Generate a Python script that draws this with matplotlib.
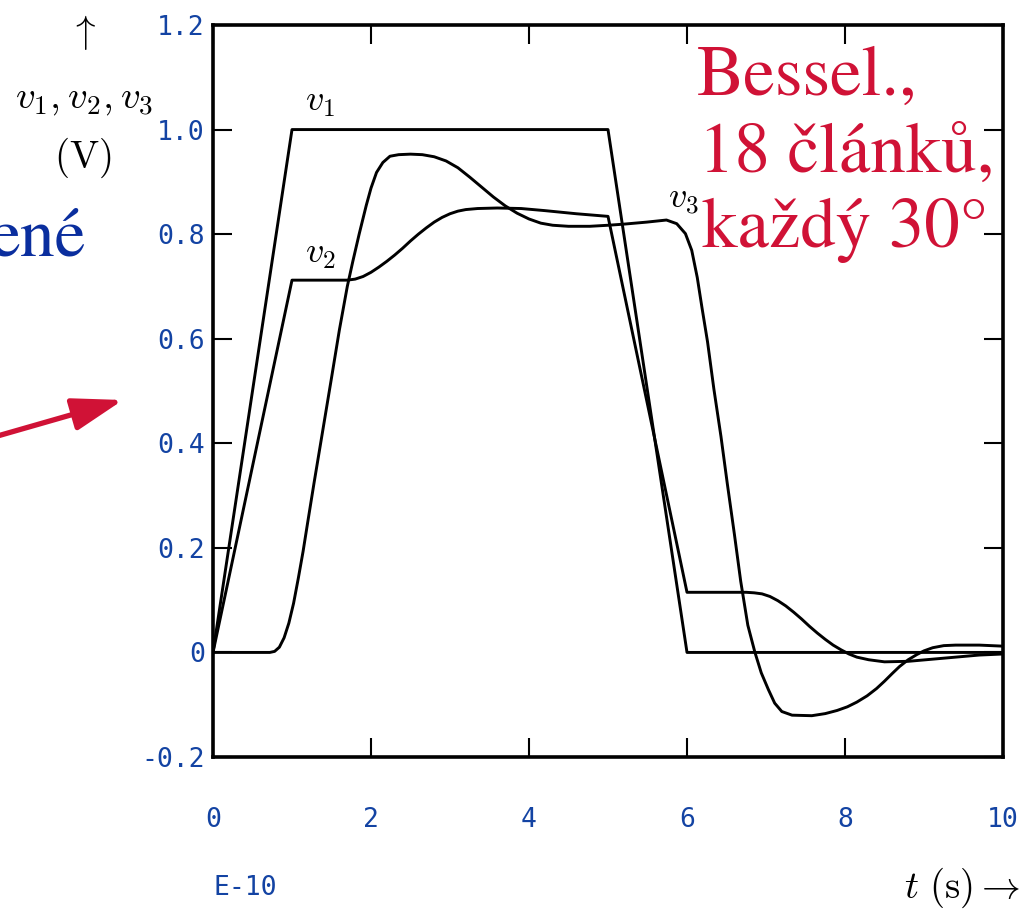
import matplotlib
matplotlib.use("Agg")
import matplotlib.pyplot as plt

plt.rcParams["mathtext.fontset"] = "cm"

# --- data -------------------------------------------------------------
t_v1 = [0, 1, 5, 6, 10]
v1 = [0, 1, 1, 0, 0]

t_v2 = [0, 1.0, 1.70, 1.8, 1.9, 2.0, 2.1, 2.2, 2.3, 2.4, 2.5, 2.6, 2.7, 2.8,
        2.9, 3.0, 3.1, 3.2, 3.35, 3.6, 3.9, 4.2, 4.6, 5.0, 6.0, 6.75, 6.85,
        6.95, 7.05, 7.15, 7.25, 7.35, 7.45, 7.55, 7.65, 7.75, 7.85, 7.95,
        8.05, 8.15, 8.3, 8.5, 8.8, 9.1, 9.4, 9.7, 10.0]
v2 = [0, 0.712, 0.712, 0.714, 0.719, 0.727, 0.737, 0.748, 0.760, 0.773,
      0.787, 0.800, 0.812, 0.823, 0.832, 0.839, 0.844, 0.847, 0.849, 0.850,
      0.849, 0.845, 0.839, 0.834, 0.115, 0.115, 0.114, 0.112, 0.107, 0.099,
      0.089, 0.077, 0.064, 0.050, 0.037, 0.025, 0.014, 0.005, -0.003,
      -0.009, -0.014, -0.018, -0.017, -0.013, -0.009, -0.005, -0.003]

t_v3 = [0, 0.72, 0.78, 0.84, 0.90, 0.96, 1.02, 1.08, 1.14, 1.20, 1.28, 1.39,
        1.5, 1.6, 1.7, 1.77, 1.85, 1.94, 2.0, 2.07, 2.15, 2.24, 2.35, 2.5,
        2.65, 2.8, 2.95, 3.1, 3.25, 3.4, 3.55, 3.7, 3.85, 4.0, 4.15, 4.3,
        4.5, 4.77, 5.0, 5.19, 5.49, 5.74, 5.87, 5.98, 6.06, 6.13, 6.19,
        6.26, 6.34, 6.43, 6.51, 6.60, 6.68, 6.77, 6.86, 6.94, 7.03, 7.11,
        7.20, 7.33, 7.58, 7.75, 7.9, 8.03, 8.15, 8.28, 8.4, 8.5, 8.6, 8.69,
        8.8, 8.91, 9.0, 9.11, 9.25, 9.4, 9.7, 10.0]
v3 = [0, 0, 0.002, 0.010, 0.028, 0.056, 0.094, 0.142, 0.193, 0.250, 0.325,
      0.425, 0.525, 0.617, 0.700, 0.748, 0.800, 0.855, 0.888, 0.918, 0.937,
      0.949, 0.952, 0.953, 0.952, 0.948, 0.940, 0.927, 0.909, 0.890, 0.871,
      0.854, 0.840, 0.829, 0.821, 0.817, 0.815, 0.815, 0.817, 0.819, 0.823,
      0.827, 0.820, 0.801, 0.769, 0.717, 0.659, 0.594, 0.504, 0.413, 0.323,
      0.226, 0.136, 0.052, 0.0, -0.039, -0.071, -0.097, -0.113, -0.120,
      -0.121, -0.117, -0.111, -0.104, -0.095, -0.083, -0.069, -0.055,
      -0.040, -0.027, -0.014, -0.004, 0.003, 0.009, 0.013, 0.014, 0.014,
      0.012]

x_ticks = [0, 2, 4, 6, 8, 10]
x_ticklabels = ["0", "2", "4", "6", "8", "10"]
y_ticks = [-0.2, 0, 0.2, 0.4, 0.6, 0.8, 1.0, 1.2]
y_ticklabels = ["-0.2", "0", "0.2", "0.4", "0.6", "0.8", "1.0", "1.2"]

# --- styling ----------------------------------------------------------
BLUE = "#1343a3"
DARK_BLUE = "#0a2e9e"
RED = "#d01236"
W, H = 1022, 910

fig = plt.figure(figsize=(W / 100, H / 100), dpi=100)
ax = fig.add_axes([213 / W, (H - 757) / H, 790 / W, 732 / H])

for t, v in ((t_v1, v1), (t_v2, v2), (t_v3, v3)):
    ax.plot(t, v, color="black", lw=2.1, solid_joinstyle="round")

ax.set_xlim(0, 10)
ax.set_ylim(-0.2, 1.2)
ax.set_xticks(x_ticks)
ax.set_xticklabels(x_ticklabels)
ax.set_yticks(y_ticks)
ax.set_yticklabels(y_ticklabels)
ax.tick_params(direction="in", top=True, right=True, length=13.5, width=1.5,
               colors="black", labelcolor=BLUE, labelsize=19)
ax.tick_params(axis="x", pad=36)
ax.tick_params(axis="y", pad=6)
for lab in ax.get_xticklabels() + ax.get_yticklabels():
    lab.set_family("DejaVu Sans Mono")
for sp in ax.spines.values():
    sp.set_linewidth(2.6)

# curve labels
ax.text(1.36, 1.035, r"$v_1$", fontsize=26, ha="center", va="baseline")
ax.text(1.36, 0.745, r"$v_2$", fontsize=26, ha="center", va="baseline")
ax.text(5.96, 0.85, r"$v_3$", fontsize=26, ha="center", va="baseline")


def fx(px):
    return px / W


def fy(py):
    return 1 - py / H


# y-axis quantity and unit
fig.text(fx(83), fy(33), r"$\uparrow$", fontsize=28, ha="center", va="center")
fig.text(fx(84), fy(108), r"$v_1,v_2,v_3$", fontsize=28, ha="center",
         va="baseline")
fig.text(fx(83), fy(168), r"$(\mathrm{V})$", fontsize=28, ha="center",
         va="baseline")

# x-axis quantity and scale
fig.text(fx(1020), fy(898), r"$t\ (\mathrm{s}) \rightarrow$", fontsize=28,
         ha="right", va="baseline")
fig.text(fx(245), fy(888), "E-10", fontsize=19, color=BLUE,
         family="DejaVu Sans Mono", ha="center", va="center")

# filter description
serif = ["STIXGeneral", "Liberation Serif", "DejaVu Serif"]
for txt, x0, yb in (("Bessel.,", 697, 95), ("18 článků,", 699, 172),
                    ("každý 30°", 702, 247)):
    fig.text(fx(x0), fy(yb), txt, fontsize=51, color=RED, family=serif,
             ha="left", va="baseline")

fig.text(fx(86), fy(255), "ené", fontsize=50, color=DARK_BLUE, family=serif,
         ha="right", va="baseline")

# pointer arrow
ax.annotate("", xy=(123, H - 400), xytext=(-6, H - 437),
            xycoords="figure pixels", textcoords="figure pixels",
            arrowprops=dict(arrowstyle="-|>,head_length=3.1,head_width=1.0",
                            color=RED, lw=3.8, shrinkA=0, shrinkB=0,
                            mutation_scale=10),
            annotation_clip=False)

fig.savefig("out.png", dpi=100)
